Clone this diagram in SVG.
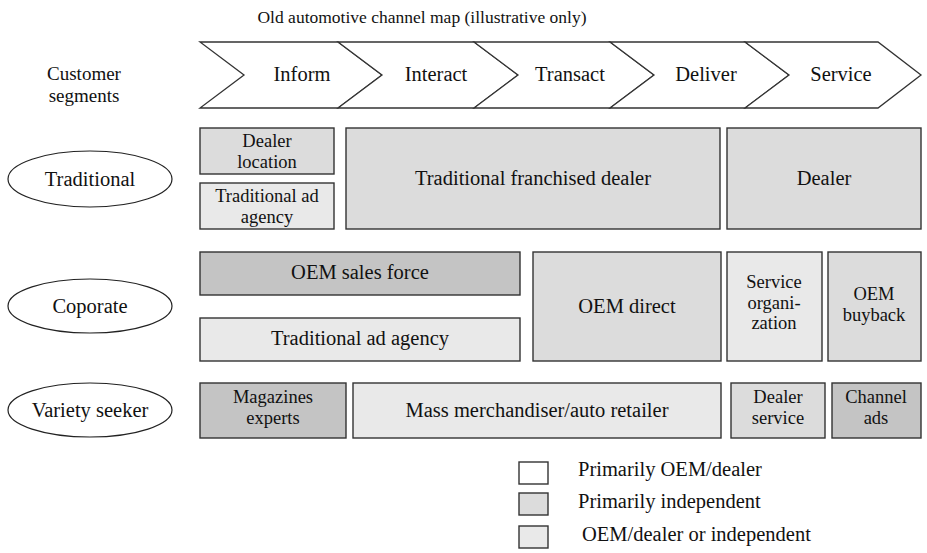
<svg xmlns="http://www.w3.org/2000/svg" width="927" height="553" viewBox="0 0 927 553" font-family="'Liberation Serif', 'Times New Roman', serif">
<style>
text{font-family:"Liberation Serif","Times New Roman",serif;font-size:20.5px;fill:#111;text-anchor:middle}
.b{stroke:#333;stroke-width:1.4}
.w{fill:#fff}.m{fill:#dcdcdc}.l{fill:#e9e9e9}.d{fill:#c4c4c4}
.lg{text-anchor:start;font-size:20.5px}
.t{font-size:17.5px}
.cs{font-size:19px}
.ml{font-size:18.5px}
</style>
<rect width="927" height="553" fill="#fff"/>
<text class="t" x="422" y="23">Old automotive channel map (illustrative only)</text>
<g id="stages" fill="#fff" stroke="#333" stroke-width="1.3">
<polygon points="200,42 338,42 382,75 338,108 200,108 244,75"/>
<polygon points="338,42 474,42 518,75 474,108 338,108 382,75"/>
<polygon points="474,42 610,42 654,75 610,108 474,108 518,75"/>
<polygon points="610,42 745,42 789,75 745,108 610,108 654,75"/>
<polygon points="745,42 878,42 921,75 878,108 745,108 789,75"/>
</g>
<text x="302" y="81">Inform</text>
<text x="436" y="81">Interact</text>
<text x="570" y="81">Transact</text>
<text x="706" y="81">Deliver</text>
<text x="841" y="81">Service</text>
<text class="cs" x="84" y="80">Customer</text>
<text class="cs" x="84" y="102">segments</text>
<g id="seg-traditional"><ellipse cx="90" cy="179" rx="82" ry="28" fill="#fff" stroke="#222" stroke-width="1.2"/><text x="90" y="186">Traditional</text></g>
<g id="seg-corporate"><ellipse cx="90" cy="306" rx="82" ry="27" fill="#fff" stroke="#222" stroke-width="1.2"/><text x="90" y="313">Coporate</text></g>
<g id="seg-variety"><ellipse cx="90" cy="410" rx="82" ry="27" fill="#fff" stroke="#222" stroke-width="1.2"/><text x="90" y="417">Variety seeker</text></g>
<g id="dealer-location"><rect class="b m" x="200" y="128" width="134" height="46"/><text class="ml" x="267" y="147">Dealer</text><text class="ml" x="267" y="167.5">location</text></g>
<g id="trad-ad-1"><rect class="b l" x="200" y="183" width="134" height="46"/><text class="ml" x="267" y="202">Traditional ad</text><text class="ml" x="267" y="222.5">agency</text></g>
<g id="trad-franchised"><rect class="b m" x="346" y="128" width="374" height="101"/><text x="533" y="185">Traditional franchised dealer</text></g>
<g id="dealer"><rect class="b m" x="727" y="128" width="194" height="101"/><text x="824" y="185">Dealer</text></g>
<g id="oem-sales"><rect class="b d" x="200" y="252" width="320" height="43"/><text x="360" y="279">OEM sales force</text></g>
<g id="trad-ad-2"><rect class="b l" x="200" y="318" width="320" height="43"/><text x="360" y="345">Traditional ad agency</text></g>
<g id="oem-direct"><rect class="b m" x="533" y="252" width="188" height="109"/><text x="627" y="313">OEM direct</text></g>
<g id="service-org"><rect class="b l" x="727" y="252" width="95" height="109"/><text class="ml" x="774" y="288">Service</text><text class="ml" x="774" y="308.5">organi-</text><text class="ml" x="774" y="329">zation</text></g>
<g id="oem-buyback"><rect class="b m" x="828" y="252" width="93" height="109"/><text class="ml" x="874" y="300">OEM</text><text class="ml" x="874" y="320.5">buyback</text></g>
<g id="magazines"><rect class="b d" x="200" y="383" width="146" height="55"/><text class="ml" x="273" y="403">Magazines</text><text class="ml" x="273" y="423.5">experts</text></g>
<g id="mass-merch"><rect class="b l" x="353" y="383" width="368" height="55"/><text x="537" y="417">Mass merchandiser/auto retailer</text></g>
<g id="dealer-service"><rect class="b m" x="731" y="383" width="94" height="55"/><text class="ml" x="778" y="403">Dealer</text><text class="ml" x="778" y="423.5">service</text></g>
<g id="channel-ads"><rect class="b d" x="832" y="383" width="89" height="55"/><text class="ml" x="876" y="403">Channel</text><text class="ml" x="876" y="423.5">ads</text></g>
<g id="legend">
<rect class="b w" x="519" y="462" width="29" height="22"/><text class="lg" x="578" y="476">Primarily OEM/dealer</text>
<rect class="b m" x="519" y="493" width="29" height="22"/><text class="lg" x="578" y="508">Primarily independent</text>
<rect class="b l" x="519" y="526" width="29" height="22"/><text class="lg" x="582" y="541">OEM/dealer or independent</text>
</g>
<g id="connectors"/>
</svg>
